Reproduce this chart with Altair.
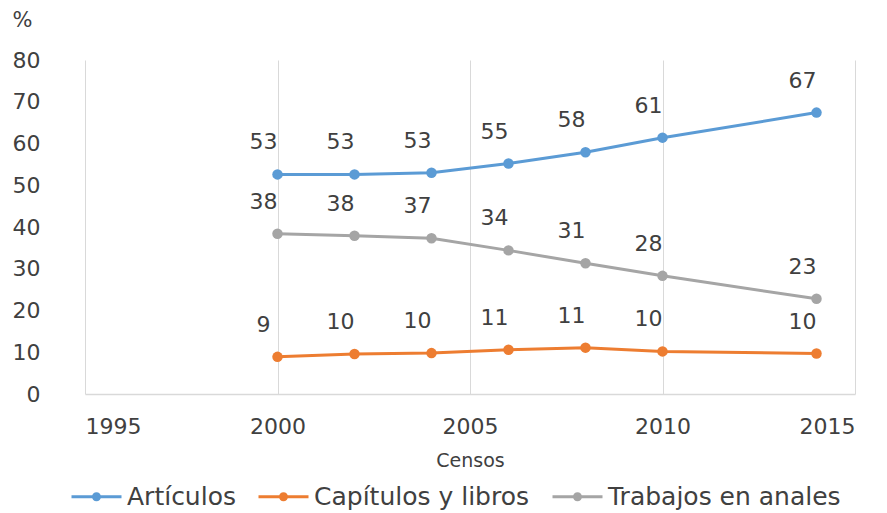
import altair as alt
import pandas as pd

years = [2000, 2002, 2004, 2006, 2008, 2010, 2014]
series_names = ["Artículos", "Capítulos y libros", "Trabajos en anales"]
articulos = [52.6, 52.6, 53.0, 55.2, 57.9, 61.4, 67.4]
capitulos = [8.9, 9.6, 9.8, 10.6, 11.1, 10.2, 9.7]
trabajos = [38.4, 37.9, 37.3, 34.4, 31.3, 28.3, 22.8]
colors = ["#5B9BD5", "#ED7D31", "#A5A5A5"]
x_ticks = [1995, 2000, 2005, 2010, 2015]
y_ticks = [0, 10, 20, 30, 40, 50, 60, 70, 80]

rows = []
for name, vals in zip(series_names, [articulos, capitulos, trabajos]):
    for yr, v in zip(years, vals):
        rows.append({"year": yr, "value": v, "series": name})
df = pd.DataFrame(rows)

FONT = "DejaVu Sans"
TXT = "#404040"

x_enc = alt.X(
    "year:Q",
    scale=alt.Scale(domain=[1995, 2015], nice=False, zero=False),
    axis=alt.Axis(
        values=x_ticks, format="d", grid=True, gridColor="#d9d9d9",
        domainColor="#d9d9d9", domainWidth=1.5, ticks=False,
        labelPadding=22, labelFontSize=22, labelFont=FONT, labelColor=TXT,
        title="Censos", titleFontSize=19, titleFont=FONT, titleColor=TXT,
        titleFontWeight="normal", titleBaseline="middle", titleY=66,
    ),
)
y_enc = alt.Y(
    "value:Q",
    scale=alt.Scale(domain=[0, 80], nice=False),
    axis=alt.Axis(
        values=y_ticks, grid=False, domain=False, ticks=False,
        labelPadding=45, labelFontSize=22, labelFont=FONT, labelColor=TXT,
        title="%", titleAngle=0, titleAlign="left", titleBaseline="middle",
        titleX=-73, titleY=-40, titleFontSize=21, titleFont=FONT,
        titleColor=TXT, titleFontWeight="normal",
    ),
)
color_scale = alt.Scale(domain=series_names, range=colors)

sym_path = ("M-2.5,-0.15L2.5,-0.15L2.5,0.15L-2.5,0.15Z "
            "M-0.45,0A0.45,0.45,0,1,1,0.45,0A0.45,0.45,0,1,1,-0.45,0Z")

legend = alt.Legend(
    title=None, orient="none", direction="horizontal",
    legendX=-1, legendY=424, padding=0,
    symbolType=sym_path, symbolSize=400, symbolStrokeWidth=0,
    symbolOpacity=1, labelOffset=18, columnPadding=22,
    labelFontSize=25, labelFont=FONT, labelColor=TXT, labelLimit=400,
)
color_enc = alt.Color("series:N", scale=color_scale, legend=legend)

base = alt.Chart(df)
line = base.mark_line(strokeWidth=3).encode(x=x_enc, y=y_enc, color=color_enc)
points = base.mark_circle(size=110, opacity=1).encode(x=x_enc, y=y_enc, color=color_enc)
labels = base.mark_text(dy=-32, dx=-14, fontSize=22, font=FONT, color=TXT).encode(
    x=x_enc, y=y_enc, text=alt.Text("value:Q", format=".0f"),
)

chart = (
    alt.layer(line, points, labels)
    .properties(
        width=770, height=334,
        autosize=alt.AutoSizeParams(type="none"),
        padding={"left": 77, "top": 52, "right": 24, "bottom": 119},
    )
    .configure_view(stroke=None)
)

chart.save("out.html", embed_options={"renderer": "svg", "actions": False})
